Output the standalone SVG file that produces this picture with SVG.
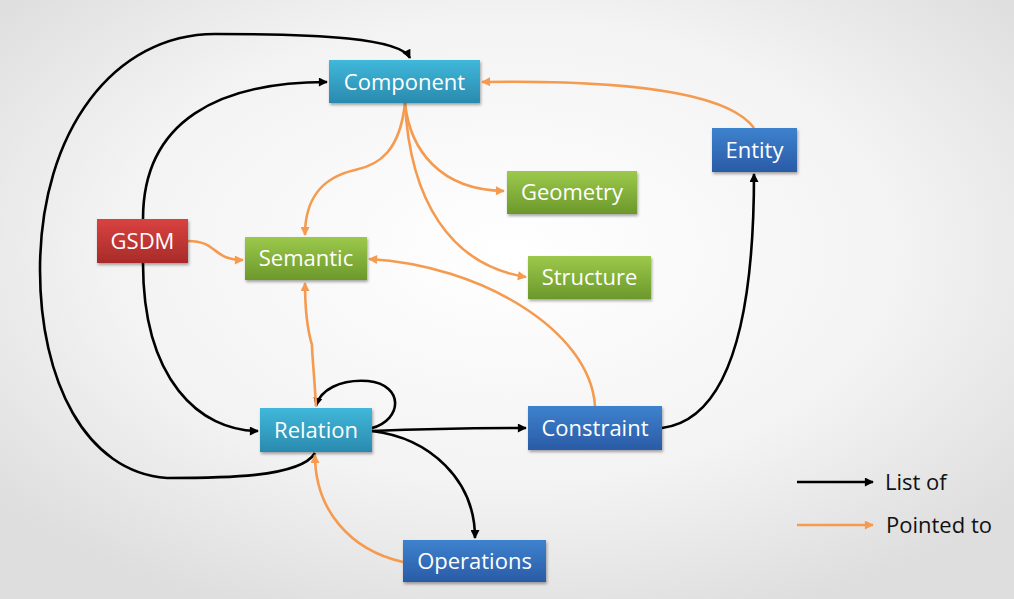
<svg xmlns="http://www.w3.org/2000/svg" width="1014" height="599" viewBox="0 0 1014 599">
<defs>
<radialGradient id="bg" cx="50%" cy="42%" r="65%">
<stop offset="0" stop-color="#ffffff"/>
<stop offset="0.6" stop-color="#f3f3f3"/>
<stop offset="1" stop-color="#dedede"/>
</radialGradient>
<linearGradient id="gCyan" x1="0" y1="0" x2="0" y2="1">
<stop offset="0" stop-color="#40b8da"/>
<stop offset="1" stop-color="#2a8aae"/>
</linearGradient>
<linearGradient id="gGreen" x1="0" y1="0" x2="0" y2="1">
<stop offset="0" stop-color="#9cc94b"/>
<stop offset="1" stop-color="#6c982b"/>
</linearGradient>
<linearGradient id="gRed" x1="0" y1="0" x2="0" y2="1">
<stop offset="0" stop-color="#da4240"/>
<stop offset="1" stop-color="#a82b2a"/>
</linearGradient>
<linearGradient id="gBlue" x1="0" y1="0" x2="0" y2="1">
<stop offset="0" stop-color="#3e82ce"/>
<stop offset="1" stop-color="#2a5ba6"/>
</linearGradient>
<filter id="sh" x="-10%" y="-10%" width="125%" height="140%">
<feDropShadow dx="1" dy="2" stdDeviation="1.5" flood-color="#000" flood-opacity="0.35"/>
</filter>
<marker id="ab" viewBox="0 0 10 10" refX="9" refY="5" markerWidth="10" markerHeight="9" markerUnits="userSpaceOnUse" orient="auto">
<path d="M0,0 L10,5 L0,10 Z" fill="#000"/>
</marker>
<marker id="ao" viewBox="0 0 10 10" refX="9" refY="5" markerWidth="10" markerHeight="9" markerUnits="userSpaceOnUse" orient="auto">
<path d="M0,0 L10,5 L0,10 Z" fill="#f59a4e"/>
</marker>
</defs>
<style>
.box{filter:url(#sh);}
.lbl{font-family:"Open Sans","Liberation Sans",sans-serif;font-size:22px;fill:#ffffff;text-anchor:middle;}
.leg{font-family:"Open Sans","Liberation Sans",sans-serif;font-size:22px;fill:#111111;}
.k{fill:none;stroke:#000;stroke-width:2.6;marker-end:url(#ab);}
.o{fill:none;stroke:#f59a4e;stroke-width:2.6;marker-end:url(#ao);}
</style>
<rect x="0" y="0" width="1014" height="599" fill="url(#bg)"/>

<g id="connectors">
<path class="k" d="M143,219 C143,120 220,82 327,82"/>
<path class="k" d="M315,453 C300,478 220,478 167,478 C85,472 40,380 40,270 C40,130 115,34 215,34 C320,34 400,38 410,58"/>
<path class="k" d="M143,263 C143,380 200,431 258,431"/>
<path class="k" d="M372,428 C402,420 405,385 368,381 C340,379 320,390 316,406"/>
<path class="k" d="M372,431 C420,429 480,428 526,428"/>
<path class="k" d="M372,431 C430,438 475,480 475,538"/>
<path class="k" d="M662,428 C725,420 754,330 754,174"/>
<path class="o" d="M754,128 C725,88 600,80 482,82"/>
<path class="o" d="M405,103 C400,150 380,165 355,170 C320,178 305,200 305,235"/>
<path class="o" d="M405,103 C410,150 440,190 504,191"/>
<path class="o" d="M405,103 C410,200 450,265 526,277"/>
<path class="o" d="M595,406 C590,330 480,265 369,259"/>
<path class="o" d="M188,241 C218,241 212,260 243,260"/>
<path class="o" d="M316,406 C314,370 312,355 312,345 C306,325 305,300 305,283"/>
<path class="o" d="M403,562 C350,550 315,510 315,455"/>
</g>

<g id="component"><rect class="box" x="329" y="60" width="151" height="43" fill="url(#gCyan)"/><text class="lbl" x="404.5" y="90">Component</text></g>
<g id="entity"><rect class="box" x="712" y="128" width="85" height="44" fill="url(#gBlue)"/><text class="lbl" x="754.5" y="158">Entity</text></g>
<g id="geometry"><rect class="box" x="507" y="171" width="130" height="43" fill="url(#gGreen)"/><text class="lbl" x="572" y="200">Geometry</text></g>
<g id="gsdm"><rect class="box" x="97" y="219" width="91" height="44" fill="url(#gRed)"/><text class="lbl" x="142.5" y="249">GSDM</text></g>
<g id="semantic"><rect class="box" x="245" y="237" width="122" height="43" fill="url(#gGreen)"/><text class="lbl" x="306" y="266">Semantic</text></g>
<g id="structure"><rect class="box" x="528" y="256" width="123" height="43" fill="url(#gGreen)"/><text class="lbl" x="589.5" y="285">Structure</text></g>
<g id="relation"><rect class="box" x="260" y="408" width="112" height="44" fill="url(#gCyan)"/><text class="lbl" x="316" y="438">Relation</text></g>
<g id="constraint"><rect class="box" x="528" y="406" width="134" height="44" fill="url(#gBlue)"/><text class="lbl" x="595" y="436">Constraint</text></g>
<g id="operations"><rect class="box" x="403" y="540" width="143" height="42" fill="url(#gBlue)"/><text class="lbl" x="474.5" y="569">Operations</text></g>

<g id="legend">
<line x1="797" y1="482" x2="873" y2="482" stroke="#000" stroke-width="2.6" marker-end="url(#ab)"/>
<text class="leg" x="885" y="490">List of</text>
<line x1="797" y1="525" x2="873" y2="525" stroke="#f59a4e" stroke-width="2.6" marker-end="url(#ao)"/>
<text class="leg" x="886" y="533">Pointed to</text>
</g>
</svg>
